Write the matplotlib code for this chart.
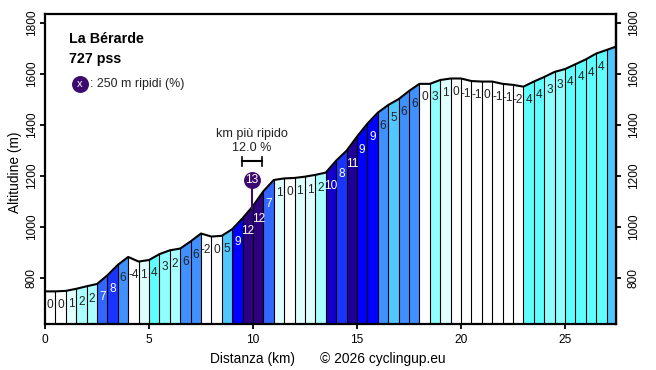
#!/usr/bin/env python3
"""Climb profile of La Berarde, coloured by gradient per 500 m."""
import matplotlib
matplotlib.use("Agg")
import matplotlib.pyplot as plt

# ---- data -------------------------------------------------------------------
DIST = [0, 0.5, 1, 1.5, 2, 2.5, 3, 3.5, 4, 4.5, 5, 5.5, 6, 6.5, 7, 7.5, 8, 8.5, 9, 9.5,
        10, 10.5, 11, 11.5, 12, 12.5, 13, 13.5, 14, 14.5, 15, 15.5, 16, 16.5, 17, 17.5,
        18, 18.5, 19, 19.5, 20, 20.5, 21, 21.5, 22, 22.5, 23, 23.5, 24, 24.5, 25, 25.5,
        26, 26.5, 27, 27.45]
ELEV = [747, 747, 749, 757, 767, 776, 810, 851, 882, 864, 870, 893, 908, 915, 943, 974,
        962, 965, 991, 1034, 1082, 1140, 1184, 1190, 1192, 1197, 1204, 1213, 1260, 1299,
        1354, 1405, 1448, 1478, 1501, 1533, 1561, 1561, 1576, 1582, 1582, 1572, 1570,
        1570, 1561, 1557, 1550, 1570, 1588, 1608, 1619, 1638, 1657, 1680, 1694, 1707]
GRADE_LABELS = ["0", "0", "1", "2", "2", "7", "8", "6", "-4", "1", "4", "3", "2", "6", "6",
                "-2", "0", "5", "9", "12", "12", "7", "1", "0", "1", "1", "2", "10", "8",
                "11", "9", "9", "6", "5", "6", "6", "0", "3", "1", "0", "-1", "-1",
                "0", "-1", "-1", "-2", "4", "4", "3", "3", "4", "4", "4", "4", ""]
# gradient class -> fill colour
GRADE_COLORS = {0: "#ffffff", 1: "#e0ffff", 2: "#aaffff", 3: "#90ffff", 4: "#60ffff",
                5: "#50c8ff", 6: "#4090ff", 7: "#3366ff", 8: "#1a33ff", 9: "#0000ff",
                10: "#1400cc", 11: "#1e0099", 12: "#2c0080"}
X_TICKS = [0, 5, 10, 15, 20, 25]
Y_TICKS = [800, 1000, 1200, 1400, 1600, 1800]

W, H = 656, 370
PURPLE = "#3c0a6e"
XMAX = 27.45
YMIN, YMAX = 621, 1835

plt.rcParams.update({"font.family": ["Liberation Sans", "DejaVu Sans"], "font.size": 8.6})

fig = plt.figure(figsize=(W / 100, H / 100), dpi=100)
ax = fig.add_axes([45 / W, 1 - 323.5 / H, (616 - 45) / W, (323.5 - 14) / H])
ax.set_xlim(0, XMAX)
ax.set_ylim(YMIN, YMAX)

for i in range(len(DIST) - 1):
    x0, x1 = DIST[i], DIST[i + 1]
    y0, y1 = ELEV[i], ELEV[i + 1]
    label = GRADE_LABELS[i]
    g = max(0, int(label)) if label else 5
    ax.fill_between([x0, x1], [y0, y1], YMIN, color=GRADE_COLORS[g], lw=0, zorder=1)
    if i > 0:
        ax.plot([x0, x0], [YMIN, y0], color="black", lw=0.8, zorder=2)
    if label:
        ax.annotate(label, ((x0 + x1) / 2, min(y0, y1)), xytext=(0, -9.5),
                    textcoords="offset points", ha="center", va="center", zorder=4,
                    color="white" if g >= 7 else "#222222")
ax.plot(DIST, ELEV, color="black", lw=1.5, zorder=3)

# steepest km marker
ax.plot([9.95, 9.95], [1075, 1170], color=PURPLE, lw=1.5, zorder=5)
ax.scatter([9.95], [1183], s=125, color=PURPLE, zorder=6)
ax.text(9.95, 1183, "13", color="white", ha="center", va="center", zorder=7)
ax.plot([9.45, 10.45], [1258, 1258], color="black", lw=1.5, zorder=5)
for xb in (9.45, 10.45):
    ax.plot([xb, xb], [1240, 1276], color="black", lw=1.2, zorder=5)
ax.text(9.95, 1366, "km più ripido", ha="center", va="center", color="#222222", fontsize=9.1)
ax.text(9.95, 1310, "12.0 %", ha="center", va="center", color="#222222", fontsize=9.1)

# header + legend
ax.text(1.15, 1737, "La Bérarde", fontweight="bold", fontsize=10.3, va="center")
ax.text(1.15, 1659, "727 pss", fontweight="bold", fontsize=10.3, va="center")
ax.scatter([1.66], [1561], s=125, color=PURPLE, zorder=6)
ax.text(1.66, 1561, "x", color="white", ha="center", va="center", fontsize=8, zorder=7)
ax.text(2.15, 1561, ": 250 m ripidi (%)", va="center", color="#222222", fontsize=8.9)

# axes
ax.set_xticks(X_TICKS)
ax.set_yticks(Y_TICKS)
ax.tick_params(axis="both", length=3.6, width=1.3, labelsize=8.6)
ax.tick_params(axis="x", pad=4)
ax.tick_params(axis="y", pad=1.5)
right = ax.secondary_yaxis("right")
right.set_yticks(Y_TICKS)
right.tick_params(length=3.6, width=1.3, labelsize=8.6, pad=5)
for lab in ax.get_yticklabels() + right.get_yticklabels():
    lab.set_rotation(90)
    lab.set_va("center")
for s in list(ax.spines.values()) + [right.spines["right"]]:
    s.set_linewidth(1.6)
    s.set_zorder(8)

fig.text(253 / W, 1 - 359 / H, "Distanza (km)", ha="center", va="center", fontsize=9.9)
fig.text(383 / W, 1 - 359 / H, "© 2026 cyclingup.eu", ha="center", va="center", fontsize=9.9)
fig.text(15 / W, 1 - 172 / H, "Altitudine (m)", rotation=90, ha="center", va="center", fontsize=9.9)

fig.savefig("out.png", dpi=100)
